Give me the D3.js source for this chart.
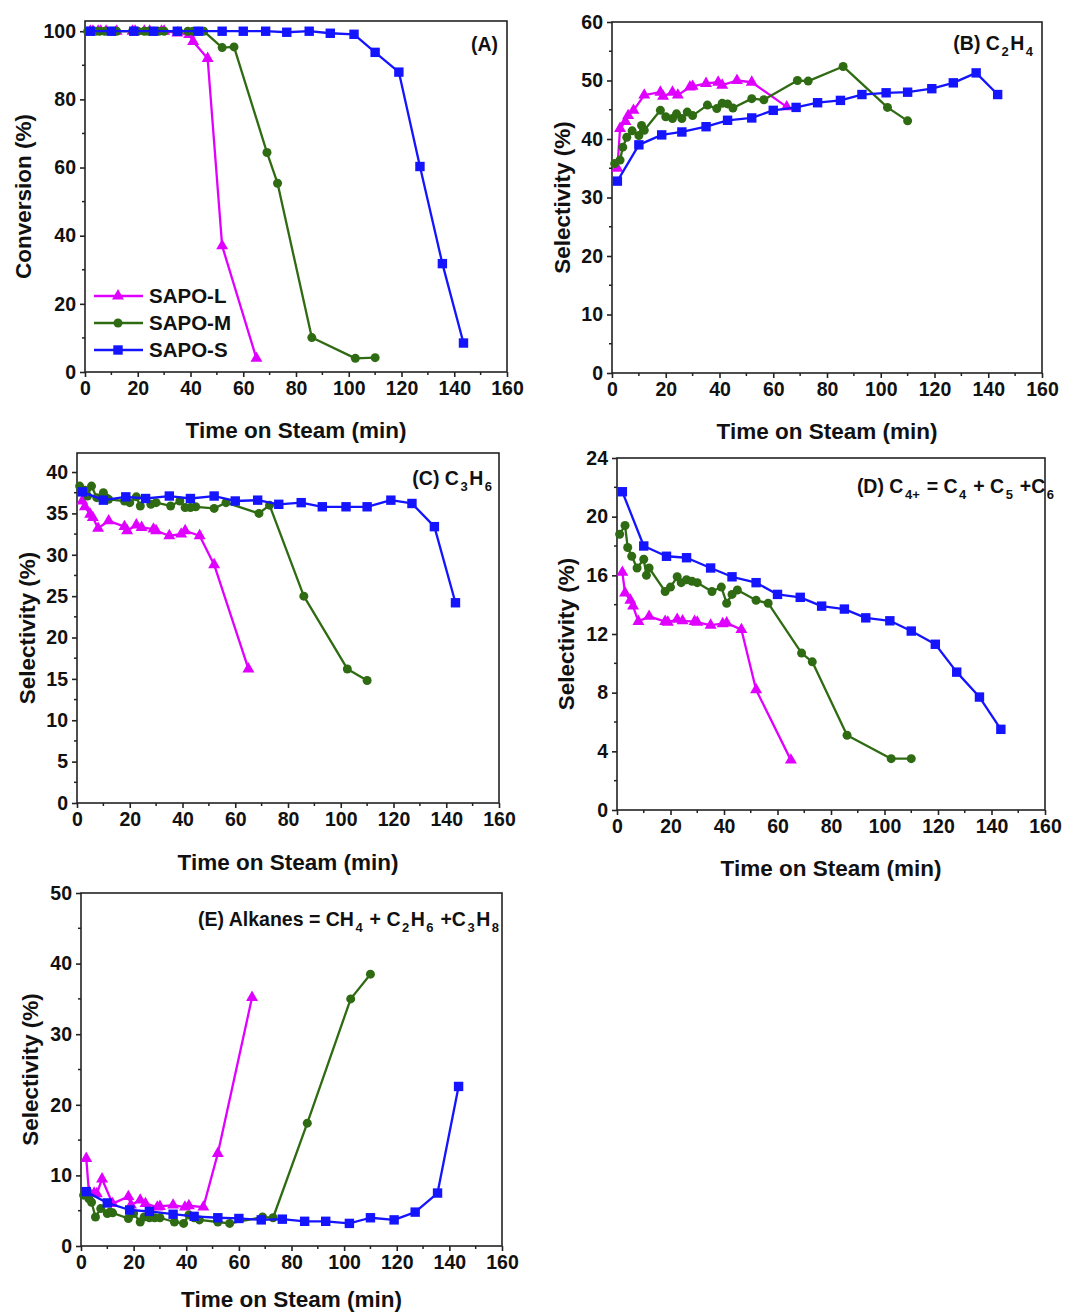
<!DOCTYPE html>
<html>
<head>
<meta charset="utf-8">
<script src="https://cdn.jsdelivr.net/npm/d3@7"></script>
<style>
  body { margin: 0; background: #fff; }
  svg { display: block; font-family: Arial, "Liberation Sans", sans-serif; font-weight: bold; }
</style>
</head>
<body>
<svg id="fig" width="1072" height="1313"></svg>
<script>
// time on steam (min) for each catalyst
var timeL = [2, 3, 5, 6, 8, 12, 18, 19, 22.5, 24.5, 29, 30, 35, 39.5, 41, 46.5, 52, 65];
var timeM = [1, 3, 4, 5.5, 7.5, 10, 11, 12, 18, 20, 22.5, 24, 26, 28, 30, 35.5, 39, 41, 43, 45, 52, 56.5, 69, 73, 86, 102.5, 110];
var timeS = [2, 10, 18.5, 26, 35, 43, 52, 60, 68.5, 76.5, 85, 93, 102, 110, 119, 127, 135.5, 143.5];

// (A) conversion
var convL = [100, 100, 100, 100, 100, 100, 100, 100, 100, 100, 100, 100, 99.5, 99, 97, 92, 37, 4];
var convM = [100, 100, 100, 100, 100, 100, 100, 100, 100, 100, 100, 100, 100, 100, 100, 100, 100, 100, 100, 100, 95.2, 95.4, 64.4, 55.4, 10.1, 4.0, 4.2];
var convS = [100, 100, 100, 100, 100, 100, 100, 100, 100, 99.7, 100, 99.4, 99.1, 93.8, 88.0, 60.3, 31.8, 8.5];

// (B) C2H4 selectivity
var ethL = [35, 41.8, 43, 44, 44.9, 47.5, 48, 47.3, 48, 47.5, 48.9, 49, 49.5, 49.7, 49.2, 50, 49.7, 45.5];
var ethM = [35.8, 36.4, 38.6, 40.3, 41.4, 40.6, 42.3, 41.5, 44.9, 43.8, 43.5, 44.3, 43.5, 44.6, 44.0, 45.8, 45.2, 46.1, 46.0, 45.3, 46.9, 46.7, 50.0, 49.9, 52.4, 45.4, 43.1];
var ethS = [32.8, 39.0, 40.7, 41.2, 42.1, 43.2, 43.6, 44.9, 45.4, 46.2, 46.6, 47.6, 47.9, 48.0, 48.6, 49.6, 51.3, 47.6];

// (C) C3H6 selectivity
var propL = [36.5, 35.8, 34.9, 34.5, 33.2, 34.1, 33.4, 32.9, 33.6, 33.3, 33.1, 32.9, 32.3, 32.5, 32.9, 32.3, 28.8, 16.2];
var propM = [38.3, 37.8, 37.1, 38.3, 36.9, 37.5, 36.9, 36.7, 36.5, 36.3, 37.0, 35.9, 36.8, 36.1, 36.3, 35.9, 36.5, 35.7, 35.7, 35.8, 35.6, 36.3, 35.0, 36.0, 25.0, 16.2, 14.8];
var propS = [37.6, 36.6, 37.0, 36.8, 37.1, 36.8, 37.1, 36.5, 36.6, 36.1, 36.3, 35.8, 35.8, 35.8, 36.6, 36.2, 33.4, 24.2];

// (D) C4+ selectivity
var c4L = [16.2, 14.8, 14.3, 13.9, 12.85, 13.2, 12.85, 12.8, 13.0, 12.9, 12.85, 12.8, 12.6, 12.7, 12.75, 12.3, 8.2, 3.4];
var c4M = [18.8, 19.4, 17.9, 17.3, 16.5, 17.1, 16.0, 16.5, 14.9, 15.2, 15.9, 15.5, 15.7, 15.6, 15.5, 14.9, 15.2, 14.1, 14.7, 15.0, 14.3, 14.1, 10.7, 10.1, 5.1, 3.5, 3.5];
var c4S = [21.7, 18.0, 17.3, 17.2, 16.5, 15.9, 15.5, 14.7, 14.5, 13.9, 13.7, 13.1, 12.9, 12.2, 11.3, 9.4, 7.7, 5.5];

// (E) alkanes selectivity
var alkL = [12.4, 7.7, 7.5, 7.4, 9.5, 6.0, 7.0, 5.8, 6.5, 6.0, 5.5, 5.6, 5.8, 5.5, 5.7, 5.5, 13.1, 35.2];
var alkM = [7.2, 6.7, 6.2, 4.1, 5.3, 4.6, 4.8, 4.7, 3.9, 4.6, 3.4, 4.1, 4.0, 4.0, 4.0, 3.4, 3.2, 4.4, 4.0, 3.7, 3.4, 3.2, 4.1, 4.0, 17.4, 35.0, 38.5];
var alkS = [7.7, 6.1, 5.1, 4.9, 4.5, 4.2, 4.0, 3.9, 3.7, 3.8, 3.5, 3.5, 3.2, 4.0, 3.7, 4.8, 7.5, 22.6];

var seriesNames = ["SAPO-L", "SAPO-M", "SAPO-S"];
var xTicks = [0, 20, 40, 60, 80, 100, 120, 140, 160];

var colL = "#e000ff", colM = "#2f6b12", colS = "#1414ff";

var svg = d3.select("#fig");

function marker(g, type, color, x, y) {
    if (type == "tri") {
        g.append("path").attr("d", d3.symbol().type(d3.symbolTriangle).size(62)())
            .attr("transform", "translate(" + x + "," + y + ")").attr("fill", color);
    } else if (type == "circ") {
        g.append("circle").attr("cx", x).attr("cy", y).attr("r", 4.5).attr("fill", color);
    } else {
        g.append("rect").attr("x", x - 4.7).attr("y", y - 4.7).attr("width", 9.4).attr("height", 9.4).attr("fill", color);
    }
}

function panel(p) {
    var g = svg.append("g");
    var x = d3.scaleLinear().domain([0, 160]).range([p.left, p.right]);
    var y = d3.scaleLinear().domain([0, p.ymax]).range([p.bottom, p.top]);

    // frame
    g.append("rect").attr("x", p.left).attr("y", p.top)
        .attr("width", p.right - p.left).attr("height", p.bottom - p.top)
        .attr("fill", "none").attr("stroke", "#222").attr("stroke-width", 1.6);

    // x axis
    var xa = g.append("g").attr("transform", "translate(0," + p.bottom + ")")
        .call(d3.axisBottom(x).tickValues(xTicks).tickSize(5).tickPadding(4).tickFormat(d3.format("d")));
    xa.append("g").selectAll("line").data(d3.range(10, 160, 20)).enter().append("line")
        .attr("x1", function (d) { return x(d); }).attr("x2", function (d) { return x(d); })
        .attr("y1", 0).attr("y2", 3).attr("stroke", "#222").attr("stroke-width", 1.5);

    var ya = g.append("g").attr("transform", "translate(" + p.left + ",0)")
        .call(d3.axisLeft(y).tickValues(p.yticks).tickSize(5).tickPadding(4).tickFormat(d3.format("d")));
    ya.append("g").selectAll("line").data(p.yminor).enter().append("line")
        .attr("y1", function (d) { return y(d); }).attr("y2", function (d) { return y(d); })
        .attr("x1", 0).attr("x2", -3).attr("stroke", "#222").attr("stroke-width", 1.5);

    g.selectAll(".domain").remove();
    g.selectAll(".tick line").attr("stroke", "#222").attr("stroke-width", 1.6);
    g.selectAll(".tick text").attr("font-size", 19.5).attr("font-weight", "bold")
        .attr("font-family", "Arial, 'Liberation Sans', sans-serif").attr("fill", "#111");

    // titles
    g.append("text").attr("x", (p.left + p.right) / 2).attr("y", p.xTitleY)
        .attr("text-anchor", "middle").attr("font-size", 22.5).attr("fill", "#111")
        .text("Time on Steam (min)");
    g.append("text").attr("transform", "translate(" + p.yTitleX + "," + ((p.top + p.bottom) / 2) + ") rotate(-90)")
        .attr("text-anchor", "middle").attr("font-size", 22.5).attr("fill", "#111")
        .text(p.ytitle);

    // panel label with subscripts
    var lab = g.append("text").attr("x", p.labelX).attr("y", p.labelY)
        .attr("text-anchor", "end").attr("font-size", 19.5).attr("fill", "#111");
    p.label.forEach(function (part) {
        var t = lab.append("tspan").text(part[0]);
        if (part[1] == "sub") t.attr("font-size", 13).attr("dy", 6).attr("dx", 1.5);
        else if (part[1] == "up") t.attr("dy", -6).attr("dx", 1.5);
    });

    // series
    var sets = [
        { t: timeL, v: p.L, c: colL, m: "tri" },
        { t: timeM, v: p.M, c: colM, m: "circ" },
        { t: timeS, v: p.S, c: colS, m: "sq" }
    ];
    var line = d3.line().x(function (d) { return x(d[0]); }).y(function (d) { return y(d[1]); });
    sets.forEach(function (s) {
        var pts = d3.zip(s.t, s.v);
        var sg = g.append("g");
        sg.append("path").datum(pts).attr("d", line).attr("fill", "none")
            .attr("stroke", s.c).attr("stroke-width", 2.3).attr("stroke-linejoin", "round");
        pts.forEach(function (d) { marker(sg, s.m, s.c, x(d[0]), y(d[1])); });
    });
    return g;
}

var gA = panel({
    left: 85, right: 507, top: 21, bottom: 372, ymax: 103,
    yticks: [0, 20, 40, 60, 80, 100], yminor: d3.range(10, 101, 20),
    xTitleY: 438, yTitleX: 31, ytitle: "Conversion (%)",
    label: [["(A)"]], labelX: 498, labelY: 51,
    L: convL, M: convM, S: convS
});
panel({
    left: 612, right: 1042, top: 22, bottom: 373, ymax: 60,
    yticks: [0, 10, 20, 30, 40, 50, 60], yminor: d3.range(5, 60, 10),
    xTitleY: 439, yTitleX: 570, ytitle: "Selectivity (%)",
    label: [["(B) C"], ["2", "sub"], ["H", "up"], ["4", "sub"]], labelX: 1033, labelY: 50,
    L: ethL, M: ethM, S: ethS
});
panel({
    left: 77, right: 499, top: 453, bottom: 803, ymax: 42.3,
    yticks: [0, 5, 10, 15, 20, 25, 30, 35, 40], yminor: d3.range(2.5, 42, 5),
    xTitleY: 870, yTitleX: 35, ytitle: "Selectivity (%)",
    label: [["(C) C"], ["3", "sub"], ["H", "up"], ["6", "sub"]], labelX: 492, labelY: 485,
    L: propL, M: propM, S: propS
});
panel({
    left: 617, right: 1045, top: 458, bottom: 810, ymax: 24,
    yticks: [0, 4, 8, 12, 16, 20, 24], yminor: d3.range(2, 24, 4),
    xTitleY: 876, yTitleX: 574, ytitle: "Selectivity (%)",
    label: [["(D) C"], ["4+", "sub"], [" = C", "up"], ["4", "sub"], [" + C", "up"], ["5", "sub"], [" +C", "up"], ["6", "sub"]],
    labelX: 1054, labelY: 493,
    L: c4L, M: c4M, S: c4S
});
panel({
    left: 81, right: 502, top: 893, bottom: 1246, ymax: 50,
    yticks: [0, 10, 20, 30, 40, 50], yminor: d3.range(5, 50, 10),
    xTitleY: 1307, yTitleX: 38, ytitle: "Selectivity (%)",
    label: [["(E) Alkanes = CH"], ["4", "sub"], [" + C", "up"], ["2", "sub"], ["H", "up"], ["6", "sub"], [" +C", "up"], ["3", "sub"], ["H", "up"], ["8", "sub"]],
    labelX: 499, labelY: 926,
    L: alkL, M: alkM, S: alkS
});

// legend in panel A
var legColors = [colL, colM, colS], legMarks = ["tri", "circ", "sq"];
var leg = gA.append("g");
seriesNames.forEach(function (name, i) {
    var ly = 296 + i * 27;
    leg.append("line").attr("x1", 94).attr("x2", 143).attr("y1", ly).attr("y2", ly)
        .attr("stroke", legColors[i]).attr("stroke-width", 2.3);
    marker(leg, legMarks[i], legColors[i], 118, ly);
    leg.append("text").attr("x", 149).attr("y", ly + 7).attr("font-size", 20.5).attr("fill", "#111").text(name);
});
</script>
</body>
</html>
